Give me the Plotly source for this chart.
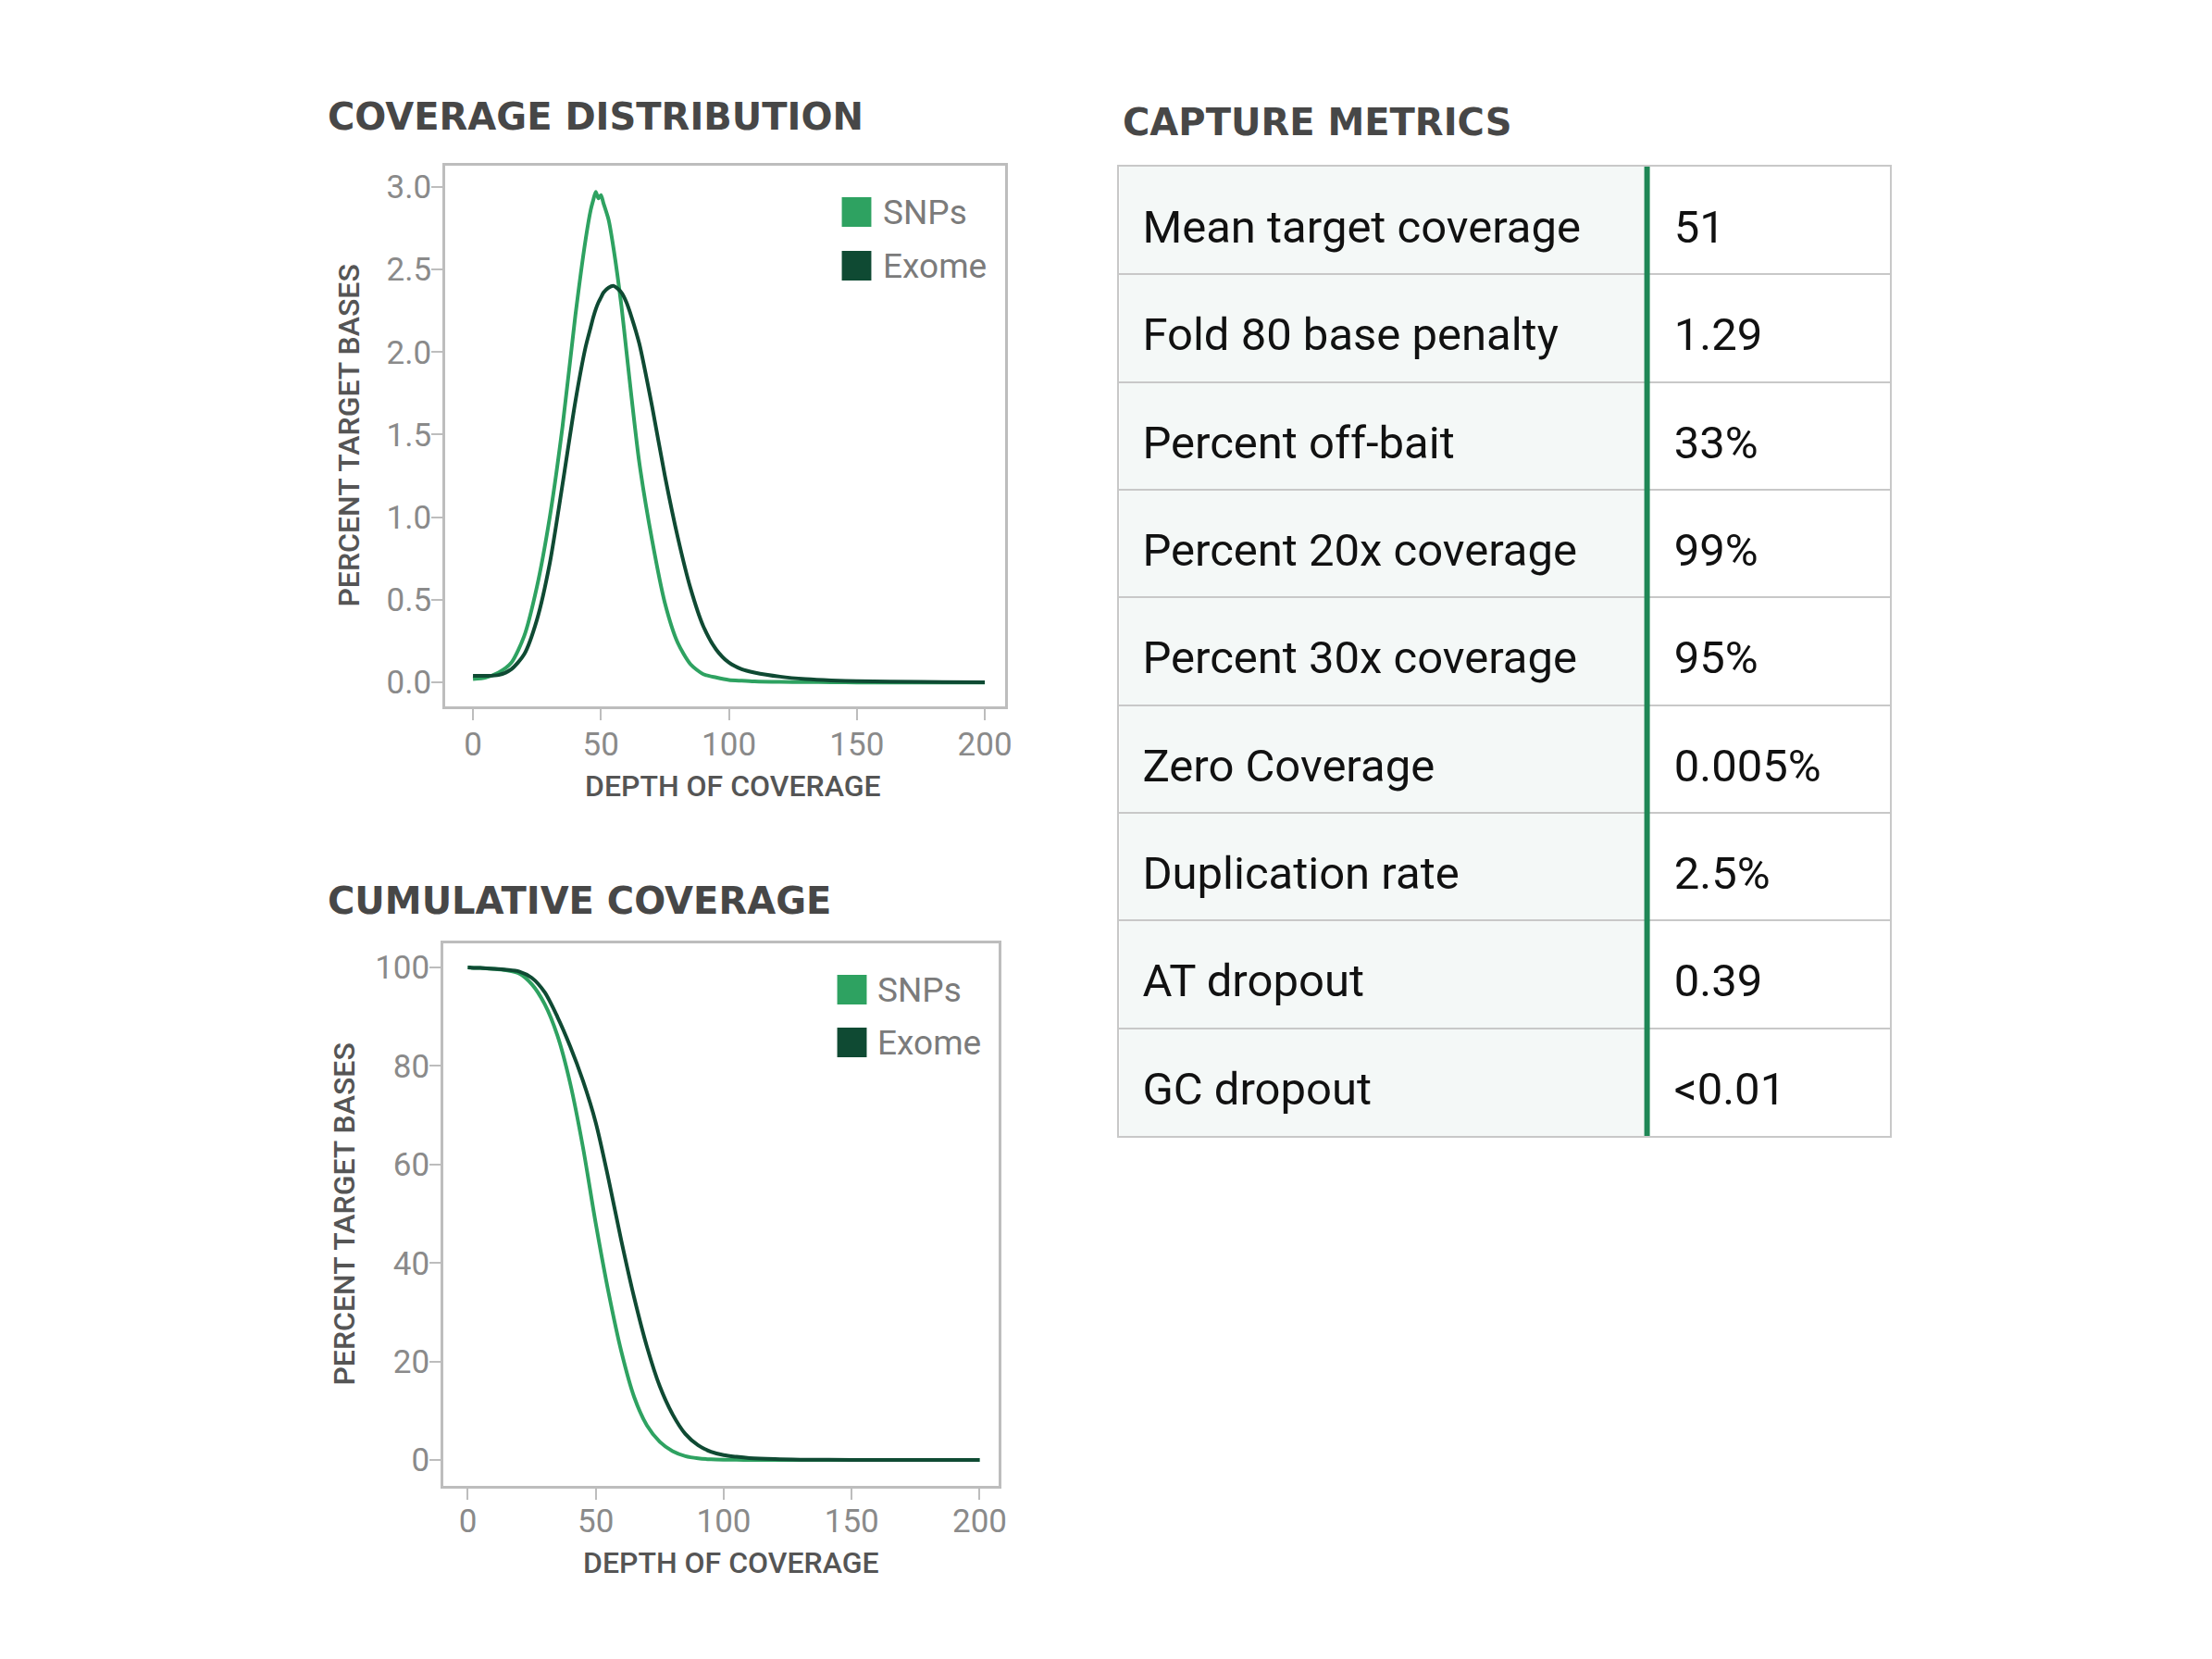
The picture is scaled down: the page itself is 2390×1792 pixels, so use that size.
import plotly.graph_objects as go

W, H = 2390, 1792

# ---------------- data ----------------
dist_depth = [0, 5, 10, 15, 20, 25, 30, 35, 40, 44, 46, 47, 48, 49, 50, 51, 53, 55, 58, 60,
              62, 65, 70, 75, 80, 85, 90, 95, 100, 105, 110, 120, 130, 140, 150, 175, 200]
dist_snps = [0.02, 0.03, 0.06, 0.12, 0.28, 0.58, 1.00, 1.55, 2.22, 2.68, 2.86, 2.92, 2.97, 2.93,
             2.95, 2.90, 2.80, 2.62, 2.28, 2.00, 1.72, 1.33, 0.86, 0.48, 0.24, 0.11, 0.05, 0.03,
             0.015, 0.01, 0.006, 0.003, 0.002, 0.001, 0.0, 0.0, 0.0]
dist_exome = [0.04, 0.04, 0.045, 0.08, 0.17, 0.38, 0.72, 1.20, 1.70, 2.03, 2.15, 2.21, 2.26, 2.30,
              2.33, 2.36, 2.39, 2.40, 2.36, 2.30, 2.21, 2.05, 1.67, 1.25, 0.88, 0.57, 0.34, 0.20,
              0.12, 0.08, 0.06, 0.035, 0.02, 0.012, 0.008, 0.003, 0.001]

cum_depth = [0, 5, 10, 15, 20, 25, 30, 35, 40, 45, 50, 55, 60, 65, 70, 75, 80, 85, 90, 95,
             100, 105, 110, 120, 130, 150, 175, 200]
cum_snps = [100, 99.9, 99.75, 99.45, 98.8, 96.6, 92.6, 86.2, 76.5, 63.5, 48, 34, 22, 12.8, 7,
            3.7, 1.8, 0.8, 0.35, 0.15, 0.07, 0.04, 0.02, 0.01, 0, 0, 0, 0]
cum_exome = [100, 99.9, 99.75, 99.55, 99.2, 97.9, 95.0, 90.0, 84.0, 77.0, 68.5, 57, 44.5, 33, 23,
             15, 9.3, 5.3, 3.0, 1.7, 1.0, 0.65, 0.4, 0.18, 0.08, 0.02, 0.005, 0]

x_ticks = [0, 50, 100, 150, 200]
dist_y_ticks = [0.0, 0.5, 1.0, 1.5, 2.0, 2.5, 3.0]
cum_y_ticks = [0, 20, 40, 60, 80, 100]

series_names = ["SNPs", "Exome"]

metric_labels = ["Mean target coverage", "Fold 80 base penalty", "Percent off-bait",
                 "Percent 20x coverage", "Percent 30x coverage", "Zero Coverage",
                 "Duplication rate", "AT dropout", "GC dropout"]
metric_values = ["51", "1.29", "33%", "99%", "95%", "0.005%", "2.5%", "0.39", "<0.01"]

# ---------------- style ----------------
SNP_COLOR = "#2ea261"
EXO_COLOR = "#0f4a33"
FRAME = "#bdbdbd"
TICK_FONT = dict(family="Roboto", size=35, color="#8a8a8a")
TITLE_COLOR = "#474747"
AXT_COLOR = "#555555"


def px_x(p):
    return p / W


def px_y(p):
    return 1 - p / H


fig = go.Figure()

# coverage distribution
fig.add_trace(go.Scatter(x=dist_depth, y=dist_snps, mode="lines", name=series_names[0],
                         line=dict(color=SNP_COLOR, width=4, shape="spline", smoothing=0.7),
                         xaxis="x", yaxis="y", showlegend=False))
fig.add_trace(go.Scatter(x=dist_depth, y=dist_exome, mode="lines", name=series_names[1],
                         line=dict(color=EXO_COLOR, width=4, shape="spline", smoothing=0.7),
                         xaxis="x", yaxis="y", showlegend=False))
# cumulative coverage
fig.add_trace(go.Scatter(x=cum_depth, y=cum_snps, mode="lines", name=series_names[0],
                         line=dict(color=SNP_COLOR, width=4, shape="spline", smoothing=0.8),
                         xaxis="x2", yaxis="y2", showlegend=False))
fig.add_trace(go.Scatter(x=cum_depth, y=cum_exome, mode="lines", name=series_names[1],
                         line=dict(color=EXO_COLOR, width=4, shape="spline", smoothing=0.8),
                         xaxis="x2", yaxis="y2", showlegend=False))

# table (text on its own axes)
SPLIT = 573 / 837
TEXT_DROP = 0.1  # baseline nudge so text sits like the reference
rows = list(range(len(metric_labels)))
fig.add_trace(go.Scatter(x=[0.030] * len(rows), y=[r + TEXT_DROP for r in rows],
                         text=metric_labels, mode="text", textposition="middle right",
                         textfont=dict(family="Roboto", size=49, color="#111111"),
                         xaxis="x3", yaxis="y3", showlegend=False, hoverinfo="skip"))
fig.add_trace(go.Scatter(x=[SPLIT + 0.035] * len(rows), y=[r + TEXT_DROP for r in rows],
                         text=metric_values, mode="text", textposition="middle right",
                         textfont=dict(family="Roboto", size=49, color="#111111"),
                         xaxis="x3", yaxis="y3", showlegend=False, hoverinfo="skip"))

common_x = dict(ticks="outside", ticklen=12, tickwidth=2, tickcolor=FRAME, showline=True,
                mirror=True, linecolor=FRAME, linewidth=3, showgrid=False, zeroline=False,
                tickfont=TICK_FONT, tickvals=x_ticks)
common_y = dict(ticks="outside", ticklen=12, tickwidth=2, tickcolor=FRAME, showline=True,
                mirror=True, linecolor=FRAME, linewidth=3, showgrid=False, zeroline=False,
                tickfont=TICK_FONT, ticklabelstandoff=-7)

fig.update_layout(
    width=W, height=H, autosize=False,
    margin=dict(l=0, r=0, t=0, b=0),
    paper_bgcolor="white", plot_bgcolor="white",
    xaxis=dict(domain=[px_x(483), px_x(1090)], range=[-10.8, 207.9], anchor="y",
               ticklabelstandoff=-4, **common_x),
    yaxis=dict(domain=[px_y(763), px_y(179)], range=[-0.145, 3.128], anchor="x",
               tickvals=dist_y_ticks, tickformat=".1f", **common_y),
    xaxis2=dict(domain=[px_x(481), px_x(1083)], range=[-9.5, 207.4], anchor="y2",
                ticklabelstandoff=-7, **common_x),
    yaxis2=dict(domain=[px_y(1605), px_y(1019)], range=[-5.25, 104.9], anchor="x2",
                tickvals=cum_y_ticks, **common_y),
    xaxis3=dict(domain=[px_x(1214), px_x(2050)], range=[0, 1], anchor="y3", showgrid=False,
                zeroline=False, showticklabels=False, ticks="", showline=True, mirror=True,
                linecolor="#c8c8c8", linewidth=2, fixedrange=True),
    yaxis3=dict(domain=[px_y(1227), px_y(180)], range=[len(rows) - 0.5, -0.5], anchor="x3",
                showgrid=True, gridcolor="#c8c8c8", gridwidth=2,
                tickvals=[r + 0.5 for r in rows[:-1]], showticklabels=False, ticks="",
                zeroline=False, showline=True, mirror=True, linecolor="#c8c8c8", linewidth=2,
                fixedrange=True),
)

shapes = [
    # left column background of the table
    dict(type="rect", xref="x3", yref="y3", x0=0, x1=SPLIT, y0=-0.5, y1=len(rows) - 0.5,
         fillcolor="#f4f8f7", line=dict(width=0), layer="below"),
    # green divider
    dict(type="line", xref="x3", yref="y3", x0=SPLIT, x1=SPLIT, y0=-0.5, y1=len(rows) - 0.5,
         line=dict(color="#1f8756", width=6), layer="above"),
]

annotations = []


def add_text(text, x, y, size, color, weight="normal", xanchor="left", angle=0,
             family="Roboto"):
    annotations.append(dict(text=text, x=px_x(x), y=px_y(y), xref="paper", yref="paper",
                            xanchor=xanchor, yanchor="middle", showarrow=False,
                            textangle=angle,
                            font=dict(family=family, size=size, color=color, weight=weight)))


# panel titles
add_text("COVERAGE DISTRIBUTION", 353, 126, 40, TITLE_COLOR, weight=700, family="DejaVu Sans")
add_text("CUMULATIVE COVERAGE", 353, 973, 40, TITLE_COLOR, weight=700, family="DejaVu Sans")
add_text("CAPTURE METRICS", 1216, 132, 40, TITLE_COLOR, weight=700, family="DejaVu Sans")

# axis titles
add_text("PERCENT TARGET BASES", 378, 471, 32, AXT_COLOR, weight=500, xanchor="center", angle=-90)
add_text("PERCENT TARGET BASES", 373, 1312, 32, AXT_COLOR, weight=500, xanchor="center", angle=-90)
add_text("DEPTH OF COVERAGE", 795, 849, 32, AXT_COLOR, weight=500, xanchor="center")
add_text("DEPTH OF COVERAGE", 793, 1688, 32, AXT_COLOR, weight=500, xanchor="center")

# legends (keys + labels)
legend_specs = [
    (913, [229, 287], 956),
    (908, [1069, 1126], 950),
]
for key_x, centers, text_x in legend_specs:
    for name, color, cy in zip(series_names, [SNP_COLOR, EXO_COLOR], centers):
        shapes.append(dict(type="rect", xref="paper", yref="paper",
                           x0=px_x(key_x), x1=px_x(key_x + 32),
                           y0=px_y(cy + 16), y1=px_y(cy - 16),
                           fillcolor=color, line=dict(width=0)))
        add_text(name, text_x, cy, 37, "#7b7b7b")

fig.update_layout(shapes=shapes, annotations=annotations)

fig.write_html("out.html")
